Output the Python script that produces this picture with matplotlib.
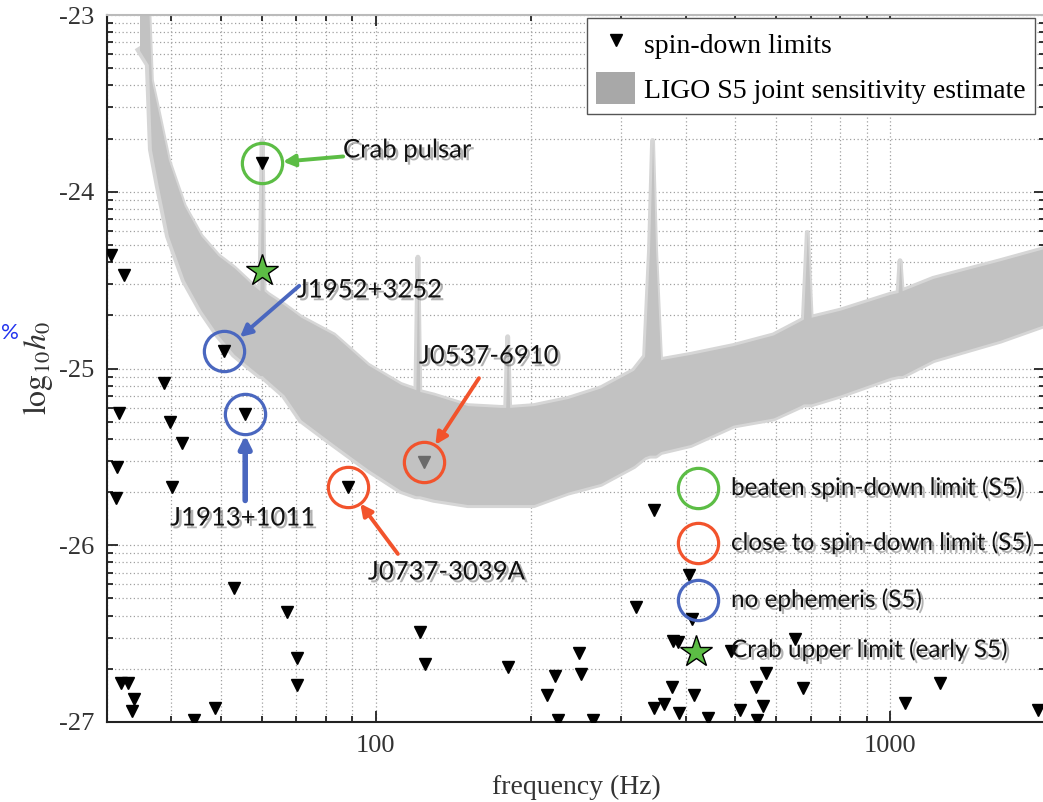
"""
spin-down limits vs LIGO S5 sensitivity
"""
import numpy as np
import matplotlib.pyplot as plt
import matplotlib.patheffects as pe
from matplotlib.patches import Patch
from matplotlib.lines import Line2D
from matplotlib.ticker import FixedLocator, FuncFormatter, NullFormatter

# spin-down limits: frequency (Hz) and log10 h0
sd_freq = [30.6, 32.4, 38.8, 31.7, 39.8, 42.0, 31.4, 40.2, 31.3, 53.0,
           67.2, 70.2, 70.2, 32.0, 33.0, 33.9, 33.6, 44.3, 48.7, 121.7,
           124.5, 180.4, 222.6, 214.8, 247.9, 251, 225.6, 264, 321, 346.6,
           407, 412.6, 379, 386, 654, 491, 574, 549, 678, 1251,
           376, 416, 364, 347, 388, 443, 511, 567, 552, 1069, 1939]
sd_logh = [-24.36, -24.47, -25.08, -25.25, -25.30, -25.42, -25.56, -25.67, -25.73, -26.24,
           -26.38, -26.64, -26.79, -26.78, -26.78, -26.87, -26.94, -26.99, -26.92, -26.49,
           -26.67, -26.69, -26.74, -26.85, -26.61, -26.73, -26.99, -26.99, -26.35, -25.80,
           -26.17, -26.42, -26.54, -26.55, -26.53, -26.60, -26.72, -26.80, -26.81, -26.78,
           -26.80, -26.85, -26.90, -26.92, -26.95, -26.98, -26.93, -26.91, -26.99, -26.89, -26.93]

# highlighted pulsars
crab = (60.1, -23.84)
j1952 = (50.7, -24.90)
j1913 = (55.7, -25.26)
j0737 = (88.2, -25.67)
j0537 = (124.0, -25.53)
crab_ul = (60.1, -24.45)

# S5 joint sensitivity band (upper / lower edge, log10 h0)
band_freq = [34.7, 36.1, 36.6, 37.7, 39.5, 42.4, 45.7, 49.3, 53.0,
             57.2, 59.5, 60.1, 60.6, 61.7, 66.3, 71.5, 82.9, 96.5, 111.8,
             119.6, 120.7, 121.7, 129.6, 150.9, 174.8, 178.8, 180.4, 182.0, 202.7,
             235.9, 273.5, 316.9, 333, 340.4, 345.1, 349.8, 357.7, 409, 495.6,
             592.6, 668.9, 678, 690, 702, 799.5, 1000, 1036, 1045, 1055,
             1212, 1636, 2000]
band_up = [-22.9, -22.9, -23.37, -23.54, -23.82, -24.08, -24.25, -24.36, -24.43,
           -24.52, -24.56, -23.71, -24.56, -24.58, -24.64, -24.71, -24.81, -24.98, -25.09,
           -25.12, -24.37, -25.13, -25.15, -25.21, -25.22, -25.22, -24.82, -25.22, -25.21,
           -25.17, -25.11, -25.01, -24.93, -24.33, -23.71, -24.33, -24.95, -24.92, -24.87,
           -24.81, -24.73, -24.72, -24.23, -24.71, -24.67, -24.58, -24.57, -24.39, -24.56,
           -24.49, -24.39, -24.32]
band_lo = [-23.20, -23.28, -23.76, -23.96, -24.25, -24.50, -24.67, -24.81, -24.92,
           -25.00, -25.04, -25.04, -25.05, -25.07, -25.15, -25.29, -25.43, -25.57, -25.69,
           -25.72, -25.72, -25.72, -25.74, -25.77, -25.77, -25.77, -25.77, -25.77, -25.77,
           -25.70, -25.65, -25.55, -25.50, -25.49, -25.49, -25.49, -25.47, -25.43, -25.32,
           -25.28, -25.21, -25.20, -25.20, -25.20, -25.15, -25.05, -25.04, -25.04, -25.04,
           -24.95, -24.84, -24.75]

key_labels = ["beaten spin-down limit (S5)", "close to spin-down limit (S5)",
              "no ephemeris (S5)", "Crab upper limit (early S5)"]

GREEN = "#5cbd45"
RED = "#f2532c"
BLUE = "#4a67bf"

W, H = 1043, 802


def px(x, y):
    return x / W, 1 - y / H


plt.rcParams["mathtext.fontset"] = "stix"
fig = plt.figure(figsize=(W / 100, H / 100), dpi=100)
ax = fig.add_axes([107 / W, 1 - 722 / H, (1045 - 107) / W, (722 - 15) / H])
ax.set_xscale("log")
ax.set_yscale("log")

bf = np.array(band_freq)
bu = 10.0 ** np.array(band_up)
bl = 10.0 ** np.array(band_lo)
# soft noisy edge
ax.plot(bf, bu, color="#d6d6d6", lw=3.5, zorder=1)
ax.plot(bf, bl, color="#d6d6d6", lw=5, zorder=1)
ax.fill_between(bf, bl, bu, color="#c2c2c2", lw=0, zorder=2)

ax.plot(sd_freq, 10.0 ** np.array(sd_logh), "v", color="k", ms=8, zorder=4)
for p in [crab, j1952, j1913, j0737]:
    ax.plot(p[0], 10 ** p[1], "v", color="k", ms=8, zorder=4)
ax.plot(j0537[0], 10 ** j0537[1], "v", color="#6a6a6a", ms=8, zorder=4)
ax.plot(crab_ul[0], 10 ** crab_ul[1], "*", color=GREEN, mec="k", mew=1.0, ms=24, zorder=5)

# circles round highlighted pulsars
for p, c in [(crab, GREEN), (j1952, BLUE), (j1913, BLUE), (j0737, RED), (j0537, RED)]:
    ax.plot(p[0], 10 ** p[1], "o", mfc="none", mec=c, mew=2.3, ms=29, zorder=6)

shadow = [pe.SimplePatchShadow(offset=(2, -2), shadow_rgbFace="0.25", alpha=0.4), pe.Normal()]
afont = dict(family=["Lato", "DejaVu Sans"], color="#111111", path_effects=shadow)


def arrow(p, dx, dy, c, lw=2.8):
    ax.annotate("", xy=(p[0], 10 ** p[1]), xytext=(dx * 0.72, -dy * 0.72),
                textcoords="offset points",
                arrowprops=dict(arrowstyle="-|>,head_length=0.7,head_width=0.35", color=c,
                                lw=lw, shrinkA=0, shrinkB=15),
                zorder=7)


arrow(crab, 81, -7, GREEN)
arrow(j1952, 75, -65, BLUE)
arrow(j1913, 0, 86, BLUE, lw=4)
arrow(j0537, 55, -84, RED)
arrow(j0737, 50, 67, RED)

fig.text(*px(343, 150), "Crab pulsar", ha="left", va="center", fontsize=18.5, **afont)
fig.text(*px(297, 290), "J1952+3252", ha="left", va="center", fontsize=18.5, **afont)
fig.text(*px(243, 518), "J1913+1011", ha="center", va="center", fontsize=18.5, **afont)
fig.text(*px(489, 356), "J0537-6910", ha="center", va="center", fontsize=18.5, **afont)
fig.text(*px(368, 572), "J0737-3039A", ha="left", va="center", fontsize=18.5, **afont)

# colour key
key_y = [488, 543, 600, 650]
for (y, c) in zip(key_y[:3], [GREEN, RED, BLUE]):
    fig.add_artist(Line2D([698 / W], [1 - y / H], marker="o", mfc="none", mec=c,
                          mew=2.3, ms=29, transform=fig.transFigure))
fig.add_artist(Line2D([696 / W], [1 - 652 / H], marker="*", color=GREEN, mec="k",
                      mew=1.0, ms=24, transform=fig.transFigure))
for y, lab in zip(key_y, key_labels):
    fig.text(*px(731, y), lab, ha="left", va="center", fontsize=17.5, **afont)

fig.text(*px(1, 333), "%", color="#2233ee", fontsize=16, ha="left", va="center",
         family="Lato")

# axes
ax.set_xlim(30, 2000)
ax.set_ylim(1e-27, 1e-23)
ax.xaxis.set_major_locator(FixedLocator([100, 1000]))
ax.xaxis.set_major_formatter(FuncFormatter(lambda v, pos: "%d" % round(v)))
ax.xaxis.set_minor_locator(FixedLocator([k * 10 ** e for e in (1, 2, 3) for k in range(2, 10)]))
ax.xaxis.set_minor_formatter(NullFormatter())
ax.yaxis.set_major_locator(FixedLocator([10.0 ** e for e in range(-27, -22)]))
ax.yaxis.set_major_formatter(FuncFormatter(lambda v, pos: "-%d" % round(-np.log10(v))))
ax.yaxis.set_minor_locator(FixedLocator([k * 10.0 ** e for e in range(-27, -23) for k in range(2, 10)]))
ax.yaxis.set_minor_formatter(NullFormatter())

ax.tick_params(which="both", direction="in", top=True, right=True, width=1.3, color="#222222")
ax.tick_params(which="major", length=8, labelsize=19, pad=9)
ax.tick_params(which="minor", length=4)
for lab in ax.get_xticklabels() + ax.get_yticklabels():
    lab.set_family("Liberation Serif")
    lab.set_color("#333333")
for s in ax.spines.values():
    s.set_linewidth(1.5)
    s.set_color("#222222")
ax.spines["top"].set_color("#bbbbbb")

ax.grid(True, which="both", linestyle=(0, (1, 2)), color="#a0a0a0", lw=0.9)
ax.set_axisbelow(True)

ax.set_xlabel("frequency (Hz)", family="Liberation Serif", fontsize=20, color="#333333")
ax.xaxis.set_label_coords(0.5, -0.075)
ax.set_ylabel(r"$\mathrm{log}_{10}h_0$", fontsize=23, color="#333333")
ax.yaxis.set_label_coords(-0.055, 0.5)

handles = [Line2D([], [], marker="v", color="k", ls="none", ms=8),
           Patch(facecolor="#a8a8a8", edgecolor="none")]
leg = ax.legend(handles, ["spin-down limits", "LIGO S5 joint sensitivity estimate"],
                loc="upper right", bbox_to_anchor=px(1035, 18), bbox_transform=fig.transFigure,
                borderaxespad=0, fancybox=False, framealpha=1, edgecolor="#555555",
                prop=dict(family="Liberation Serif", size=20), handlelength=1.4,
                handleheight=1.4, labelspacing=0.45, borderpad=0.35, handletextpad=0.3)
leg.get_frame().set_linewidth(1.0)
leg.set_zorder(10)

fig.savefig("out.png", dpi=100)
